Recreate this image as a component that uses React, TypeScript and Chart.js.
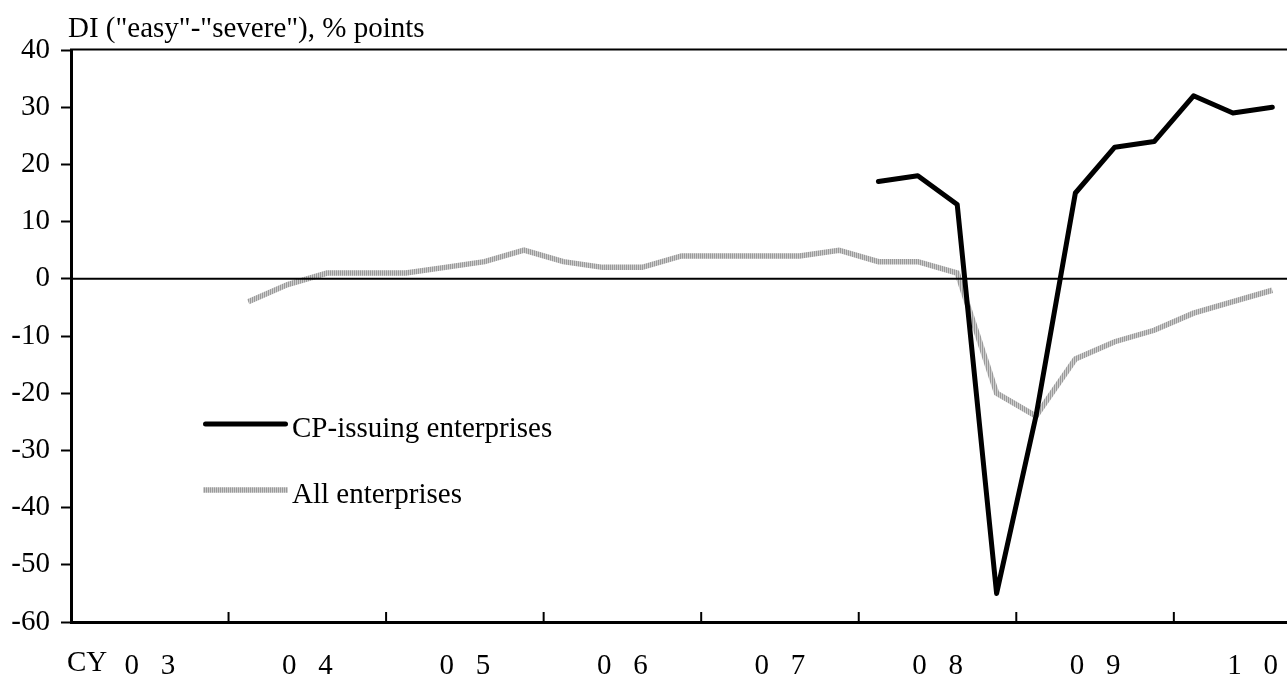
import React, { useEffect, useRef } from "react";
import { Chart, registerables } from "chart.js";

Chart.register(...registerables);

// Quarters from 2003Q1 to 2010Q3
const quarters = [
  "2003Q1", "2003Q2", "2003Q3", "2003Q4",
  "2004Q1", "2004Q2", "2004Q3", "2004Q4",
  "2005Q1", "2005Q2", "2005Q3", "2005Q4",
  "2006Q1", "2006Q2", "2006Q3", "2006Q4",
  "2007Q1", "2007Q2", "2007Q3", "2007Q4",
  "2008Q1", "2008Q2", "2008Q3", "2008Q4",
  "2009Q1", "2009Q2", "2009Q3", "2009Q4",
  "2010Q1", "2010Q2", "2010Q3",
];

const cpIssuing: (number | null)[] = [
  null, null, null, null,
  null, null, null, null,
  null, null, null, null,
  null, null, null, null,
  null, null, null, null,
  17, 18, 13, -55,
  -24, 15, 23, 24,
  32, 29, 30,
];

const allEnterprises: (number | null)[] = [
  null, null, null, null,
  -4, -1, 1, 1,
  1, 2, 3, 5,
  3, 2, 2, 4,
  4, 4, 4, 5,
  3, 3, 1, -20,
  -24, -14, -11, -9,
  -6, -4, -2,
];

const yearLabels = ["03", "04", "05", "06", "07", "08", "09", "10"];

const titleText = 'DI ("easy"-"severe"), % points';
const seriesNames = ["CP-issuing enterprises", "All enterprises"];

const FONT = "'Liberation Serif', 'Times New Roman', serif";
const FS = 29;

function spaced(s: string) {
  return s.split("").join("   ");
}

export default function App() {
  const ref = useRef<HTMLCanvasElement | null>(null);

  useEffect(() => {
    const canvas = ref.current;
    if (!canvas) return;
    const ctx = canvas.getContext("2d")!;

    const stripe = document.createElement("canvas");
    stripe.width = 2;
    stripe.height = 1;
    const sctx = stripe.getContext("2d")!;
    sctx.fillStyle = "#9a9a9a";
    sctx.fillRect(0, 0, 1, 1);
    sctx.fillStyle = "#cdcdcd";
    sctx.fillRect(1, 0, 1, 1);
    const pattern = ctx.createPattern(stripe, "repeat")!;

    const decor = {
      id: "decor",
      afterDatasetDraw(chart: any, args: any) {
        if (args.index !== 1) return;
        const c = chart.ctx;
        const { left, right } = chart.chartArea;
        const y0 = chart.scales.y.getPixelForValue(0);
        c.save();
        c.strokeStyle = "#000";
        c.lineWidth = 2;
        c.beginPath();
        c.moveTo(left, y0);
        c.lineTo(right, y0);
        c.stroke();
        c.restore();
      },
      afterDraw(chart: any) {
        const c = chart.ctx;
        const { left, right, top, bottom } = chart.chartArea;
        const xs = chart.scales.x;
        c.save();
        // top frame line
        c.strokeStyle = "#000";
        c.lineWidth = 2;
        c.beginPath();
        c.moveTo(left - 1, top - 0.5);
        c.lineTo(right, top - 0.5);
        c.stroke();
        // inner year-boundary tick marks
        c.lineWidth = 2;
        for (let i = 1; i < yearLabels.length; i++) {
          const px = xs.getPixelForValue(i * 4);
          c.beginPath();
          c.moveTo(px, bottom - 10);
          c.lineTo(px, bottom);
          c.stroke();
        }
        // texts
        c.fillStyle = "#000";
        c.font = `${FS}px ${FONT}`;
        c.textBaseline = "alphabetic";
        c.textAlign = "left";
        c.fillText(titleText, 68, 37);
        c.fillText("CY", 67, 671);
        // legend
        c.lineWidth = 5;
        c.lineCap = "round";
        c.strokeStyle = "#000";
        c.beginPath();
        c.moveTo(205.5, 424);
        c.lineTo(285.5, 424);
        c.stroke();
        c.lineCap = "butt";
        c.lineWidth = 5.5;
        c.strokeStyle = pattern;
        c.beginPath();
        c.moveTo(203, 490);
        c.lineTo(288, 490);
        c.stroke();
        c.fillText(seriesNames[0], 292, 437);
        c.fillText(seriesNames[1], 292, 503);
        c.restore();
      },
    };

    const chart = new Chart(ctx, {
      type: "line",
      data: {
        datasets: [
          {
            label: seriesNames[0],
            data: quarters.map((_, i) => ({ x: i + 0.5, y: cpIssuing[i] })) as any,
            borderColor: "#000",
            borderWidth: 5,
            pointRadius: 0,
            borderJoinStyle: "round",
            borderCapStyle: "round",
            spanGaps: false,
            tension: 0,
          },
          {
            label: seriesNames[1],
            data: quarters.map((_, i) => ({ x: i + 0.5, y: allEnterprises[i] })) as any,
            borderColor: pattern as any,
            borderWidth: 5.5,
            pointRadius: 0,
            borderJoinStyle: "miter",
            borderCapStyle: "butt",
            spanGaps: false,
            tension: 0,
          },
        ],
      },
      options: {
        animation: false,
        responsive: false,
        events: [],
        layout: { padding: { top: 50, left: 0, right: 0, bottom: 0 } },
        plugins: {
          legend: { display: false },
          tooltip: { enabled: false },
          title: { display: false },
        },
        scales: {
          x: {
            type: "linear",
            min: 0,
            max: quarters.length,
            afterBuildTicks: (s: any) => {
              s.ticks = yearLabels.map((_, i) => ({ value: i * 4 + 2 }));
            },
            afterFit: (s: any) => {
              s.height = 55;
              s.paddingLeft = 0;
              s.paddingRight = 0;
            },
            grid: { display: false, drawTicks: false },
            border: { display: true, color: "#000", width: 3 },
            ticks: {
              autoSkip: false,
              maxRotation: 0,
              padding: 27,
              color: "#000",
              font: { family: FONT, size: FS },
              callback: (_v: any, i: number) => spaced(yearLabels[i]),
            },
          },
          y: {
            min: -60,
            max: 40,
            afterFit: (s: any) => {
              s.width = 71;
              s.paddingTop = 0;
              s.paddingBottom = 0;
            },
            grid: {
              drawOnChartArea: false,
              drawTicks: true,
              tickLength: 10,
              tickColor: "#000",
              tickWidth: 2,
            },
            border: { display: true, color: "#000", width: 3 },
            ticks: {
              stepSize: 10,
              padding: 11,
              color: "#000",
              font: { family: FONT, size: FS },
            },
          },
        },
      },
      plugins: [decor],
    });

    return () => chart.destroy();
  }, []);

  return (
    <div
      style={{
        position: "fixed",
        left: 0,
        top: 0,
        width: 1287,
        height: 677,
        overflow: "hidden",
        background: "#fff",
      }}
    >
      <canvas
        ref={ref}
        width={1292}
        height={677}
        style={{ display: "block", width: 1292, height: 677 }}
      />
    </div>
  );
}
